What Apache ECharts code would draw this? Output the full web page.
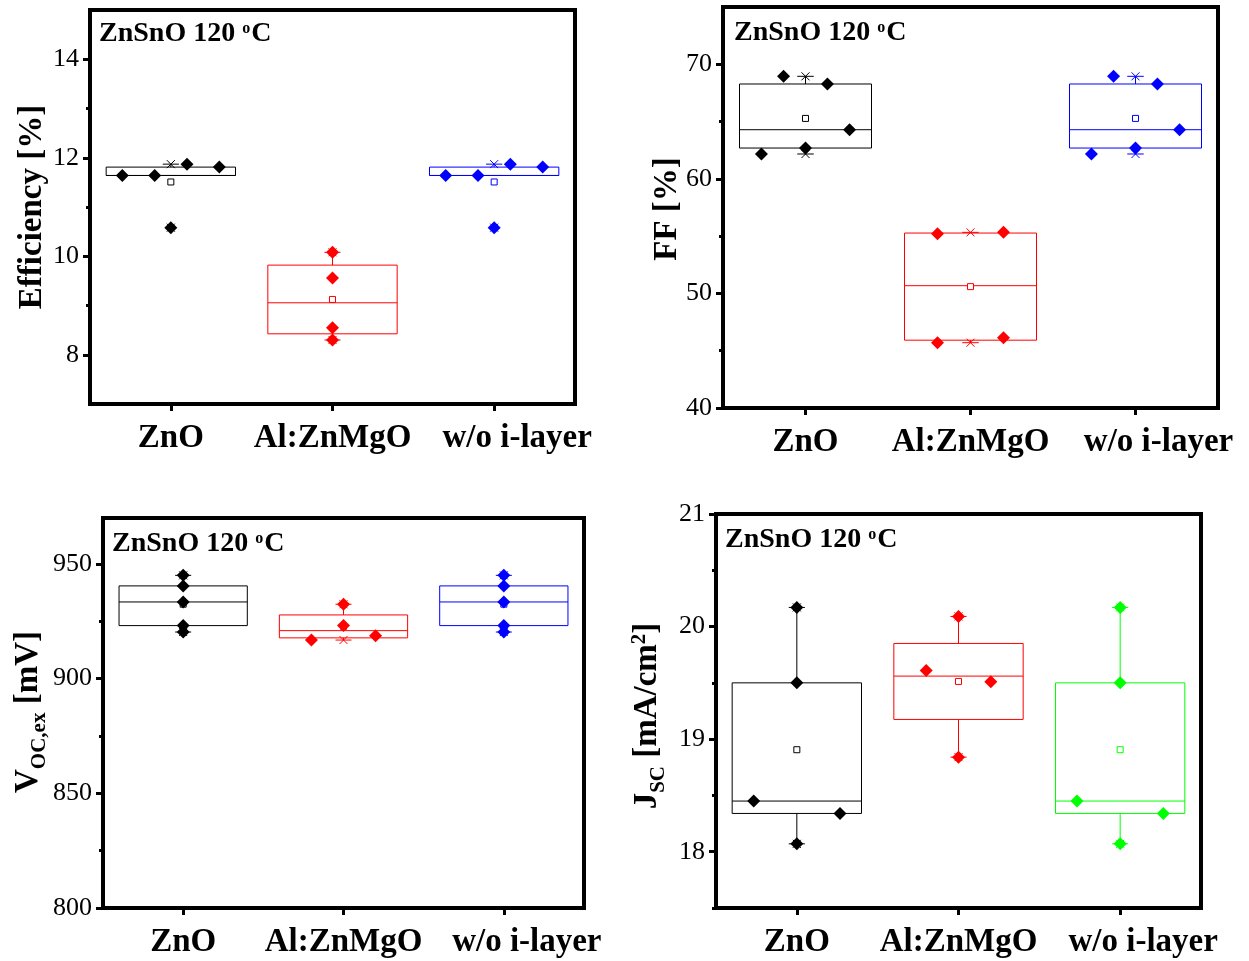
<!DOCTYPE html>
<html>
<head>
<meta charset="utf-8">
<script src="https://cdn.jsdelivr.net/npm/echarts@6/dist/echarts.min.js"></script>
<style>
html,body{margin:0;padding:0;background:#fff;}
#main{width:1249px;height:961px;}
</style>
</head>
<body>
<div id="main"></div>
<script>
var groups = ['ZnO', 'Al:ZnMgO', 'w/o i-layer'];

// Efficiency [%]
var effZnO = [11.64, 11.64, 11.87, 11.81, 10.58];
var effAl = [10.08, 9.56, 8.55, 8.30];
var effNoI = [11.64, 11.64, 11.87, 11.81, 10.58];
var effJit = [[-0.3, -0.1, 0.1, 0.3, 0], [0, 0, 0, 0], [-0.3, -0.1, 0.1, 0.3, 0]];
var effTicks = [8, 10, 12, 14];
var effMinor = [9, 11, 13];

// FF [%]
var ffZnO = [68.95, 68.28, 64.29, 62.17, 62.69];
var ffAl = [55.21, 55.33, 45.70, 46.14];
var ffNoI = [68.95, 68.28, 64.29, 62.17, 62.69];
var ffJit = [[-0.133, 0.133, 0.267, -0.267, 0], [-0.2, 0.2, -0.2, 0.2], [-0.133, 0.133, 0.267, -0.267, 0]];
var ffTicks = [40, 50, 60, 70];
var ffMinor = [45, 55, 65];

// Voc,ex [mV]
var vocZnO = [945.0, 940.4, 933.4, 923.1, 920.3];
var vocAl = [932.4, 923.1, 916.8, 918.7];
var vocNoI = [945.0, 940.4, 933.4, 923.1, 920.3];
var vocJit = [[0, 0, 0, 0, 0], [0, 0, -0.2, 0.2], [0, 0, 0, 0, 0]];
var vocTicks = [800, 850, 900, 950];
var vocMinor = [825, 875, 925];

// Jsc [mA/cm2]
var jscZnO = [20.17, 19.50, 18.45, 18.34, 18.07];
var jscAl = [20.09, 19.61, 19.51, 18.84];
var jscNoI = [20.17, 19.50, 18.45, 18.34, 18.07];
var jscJit = [[0, 0, -0.267, 0.267, 0], [0, -0.2, 0.2, 0], [0, 0, -0.267, 0.267, 0]];
var jscTicks = [18, 19, 20, 21];
var jscMinor = [17.5, 18.5, 19.5, 20.5];

var FONT = "'Liberation Serif', 'Times New Roman', serif";

var panels = [
    {sets: [effZnO, effAl, effNoI], jit: effJit, min: 7, max: 15, ticks: effTicks, minor: effMinor,
     colors: ['#000000', '#ff0000', '#0000ff'], grid: {left: 90, top: 10, width: 485, height: 394}},
    {sets: [ffZnO, ffAl, ffNoI], jit: ffJit, min: 40, max: 75, ticks: ffTicks, minor: ffMinor,
     colors: ['#000000', '#ff0000', '#0000ff'], grid: {left: 723, top: 7, width: 495, height: 401}},
    {sets: [vocZnO, vocAl, vocNoI], jit: vocJit, min: 800, max: 970, ticks: vocTicks, minor: vocMinor,
     colors: ['#000000', '#ff0000', '#0000ff'], grid: {left: 103, top: 518, width: 481, height: 390}},
    {sets: [jscZnO, jscAl, jscNoI], jit: jscJit, min: 17.5, max: 21, ticks: jscTicks, minor: jscMinor,
     colors: ['#000000', '#ff0000', '#00ff00'], grid: {left: 716, top: 514, width: 485, height: 394}}
];

var median = function (s) {
    var n = s.length, m = Math.floor(n / 2);
    return n % 2 ? s[m] : (s[m - 1] + s[m]) / 2;
};

// Tukey hinges, whiskers at 1.5 IQR, plus mean / min / max
var boxStats = function (vals) {
    var s = vals.slice().sort(function (a, b) { return a - b; });
    var n = s.length, h = Math.ceil(n / 2);
    var q1 = median(s.slice(0, h)), q3 = median(s.slice(n - h));
    var iqr = q3 - q1;
    var lo = s.filter(function (v) { return v >= q1 - 1.5 * iqr; })[0];
    var inHi = s.filter(function (v) { return v <= q3 + 1.5 * iqr; });
    var hi = inHi[inHi.length - 1];
    var mean = s.reduce(function (a, b) { return a + b; }, 0) / n;
    return [lo, q1, median(s), q3, hi, mean, s[0], s[n - 1]];
};

var makeBox = function (color) {
    return function (params, api) {
        var x = api.value(0);
        var half = api.size([0.4, 0])[0];
        var capW = api.size([0.05, 0])[0];
        var p = [];
        for (var i = 1; i <= 8; i++) p.push(api.coord([x, api.value(i)]));
        var cx = p[0][0];
        var st = {stroke: color, lineWidth: 1, fill: null};
        var line = function (x1, y1, x2, y2) {
            return {type: 'line', shape: {x1: x1, y1: y1, x2: x2, y2: y2}, style: st};
        };
        var kids = [
            line(cx, p[0][1], cx, p[1][1]),
            line(cx, p[3][1], cx, p[4][1]),
            line(cx - capW, p[0][1], cx + capW, p[0][1]),
            line(cx - capW, p[4][1], cx + capW, p[4][1]),
            {type: 'rect', shape: {x: cx - half, y: p[3][1], width: half * 2, height: p[1][1] - p[3][1]},
             style: {stroke: color, lineWidth: 1, fill: null}},
            line(cx - half, p[2][1], cx + half, p[2][1])
        ];
        [p[6], p[7]].forEach(function (q) {
            kids.push(line(cx - 4, q[1] - 4, cx + 4, q[1] + 4));
            kids.push(line(cx - 4, q[1] + 4, cx + 4, q[1] - 4));
        });
        kids.push({type: 'rect', shape: {x: cx - 3, y: p[5][1] - 3, width: 6, height: 6},
                   style: {stroke: color, lineWidth: 1, fill: '#fff'}});
        return {type: 'group', children: kids};
    };
};

var option = {animation: false, grid: [], xAxis: [], yAxis: [], series: [], graphic: []};

panels.forEach(function (p, k) {
    option.grid.push(Object.assign({show: true, borderColor: '#000', borderWidth: 4, backgroundColor: 'transparent'}, p.grid));
    option.xAxis.push({
        type: 'value', gridIndex: k, min: 0.5, max: 3.5,
        axisLine: {show: true, onZero: false, lineStyle: {color: '#000', width: 4}},
        axisTick: {show: true, customValues: [1, 2, 3], length: 7, lineStyle: {color: '#000', width: 3}},
        axisLabel: {
            customValues: [1, 2, 3],
            formatter: function (v) {
                var i = Math.round(v) - 1;
                return i === 2 ? '{w|' + groups[i] + '}' : groups[i];
            },
            rich: {w: {fontFamily: FONT, fontWeight: 'bold', fontSize: 33, color: '#000', padding: [0, 0, 0, 46]}},
            fontFamily: FONT, fontWeight: 'bold', fontSize: 33, color: '#000', margin: 18
        },
        splitLine: {show: false}
    });
    option.yAxis.push({
        type: 'value', gridIndex: k, min: p.min, max: p.max, position: 'left',
        axisLine: {show: true, onZero: false, lineStyle: {color: '#000', width: 4}},
        axisTick: {show: true, customValues: p.ticks, length: 7, lineStyle: {color: '#000', width: 3}},
        axisLabel: {customValues: p.ticks, showMaxLabel: true, showMinLabel: true,
                    fontFamily: FONT, fontSize: 26, color: '#000', margin: 11},
        splitLine: {show: false}
    });
    option.yAxis.push({
        type: 'value', gridIndex: k, min: p.min, max: p.max, position: 'left',
        axisLine: {show: false},
        axisTick: {show: true, customValues: p.minor, length: 4, lineStyle: {color: '#000', width: 3}},
        axisLabel: {show: false},
        splitLine: {show: false}
    });
    p.sets.forEach(function (vals, g) {
        var color = p.colors[g];
        option.series.push({
            type: 'custom', xAxisIndex: k, yAxisIndex: 2 * k, silent: true,
            renderItem: makeBox(color),
            data: [[g + 1].concat(boxStats(vals))]
        });
    });
    p.sets.forEach(function (vals, g) {
        option.series.push({
            type: 'scatter', xAxisIndex: k, yAxisIndex: 2 * k, silent: true,
            symbol: 'diamond', symbolSize: 13,
            itemStyle: {color: p.colors[g], opacity: 1},
            data: vals.map(function (v, i) { return [g + 1 + p.jit[g][i], v]; })
        });
    });
});

var tag = function (x, y) {
    return {
        type: 'text', x: x, y: y, silent: true,
        style: {
            text: '{b|ZnSnO 120 }{s|o}{b|C}', verticalAlign: 'middle', align: 'left',
            rich: {
                b: {fontFamily: FONT, fontWeight: 'bold', fontSize: 28, fill: '#000', verticalAlign: 'top'},
                s: {fontFamily: FONT, fontWeight: 'bold', fontSize: 16, fill: '#000', verticalAlign: 'top', padding: [1, 1, 0, 0]}
            }
        }
    };
};

var ytitle = function (x, y, text) {
    return {
        type: 'text', x: x, y: y, rotation: Math.PI / 2, silent: true,
        style: {
            text: text, align: 'center', verticalAlign: 'middle',
            rich: {
                b: {fontFamily: FONT, fontWeight: 'bold', fontSize: 33, fill: '#000', verticalAlign: 'top'},
                sub: {fontFamily: FONT, fontWeight: 'bold', fontSize: 21, fill: '#000', verticalAlign: 'top', padding: [17, 0, 0, 0]},
                sup: {fontFamily: FONT, fontWeight: 'bold', fontSize: 21, fill: '#000', verticalAlign: 'top', padding: [-2, 0, 0, 0]}
            }
        }
    };
};

option.graphic = [
    tag(99, 34), tag(734, 33), tag(112, 544), tag(725, 540),
    ytitle(32, 207, '{b|Efficiency [%]}'),
    ytitle(667, 209, '{b|FF [%]}'),
    ytitle(31, 712, '{b|V}{sub|OC,ex}{b| [mV]}'),
    ytitle(650, 716, '{b|J}{sub|SC}{b| [mA/cm}{sup|2}{b|]}')
];

var mainEchart = echarts.init(document.getElementById('main'));
mainEchart.setOption(option, true);
</script>
</body>
</html>
